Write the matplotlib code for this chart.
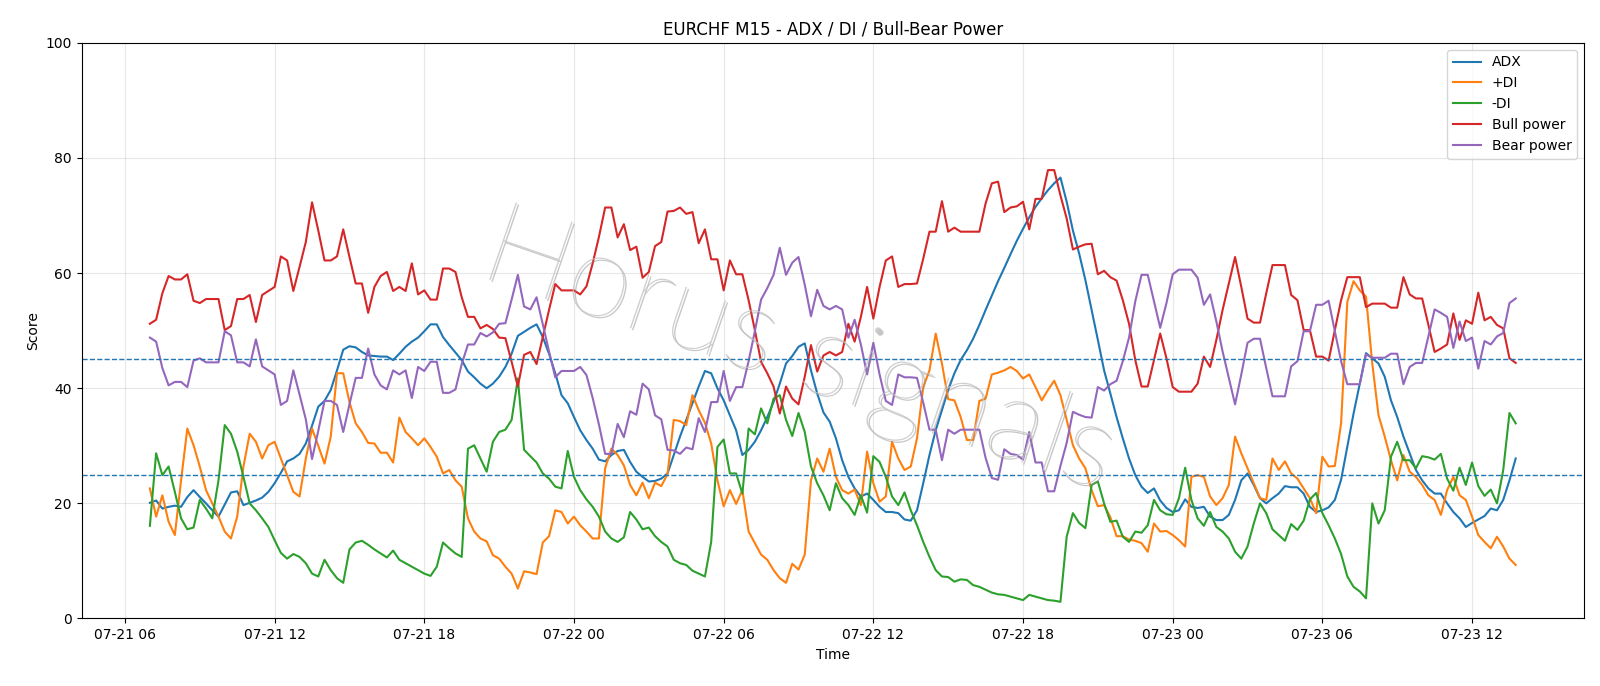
import matplotlib
matplotlib.use("Agg")
import matplotlib.pyplot as plt
import matplotlib.dates as mdates
import matplotlib.patheffects as pe
import pandas as pd

# 15-minute bars, 07-21 07:00 -> 07-23 13:45
times = pd.date_range("2025-07-21 07:00", periods=220, freq="15min")

adx = [
    20.1, 20.5, 19.1, 19.4, 19.6, 19.4, 21.1, 22.3, 21.1, 20.0, 18.8, 17.7, 19.8, 21.9, 22.1, 19.7, 20.1, 20.5, 21.0, 22.0,
    23.5, 25.3, 27.3, 27.8, 28.6, 30.4, 33.5, 36.8, 37.8, 39.7, 43.1, 46.7, 47.3, 47.1, 46.3, 45.7, 45.6, 45.5, 45.5, 44.9,
    46.0, 47.2, 48.1, 48.8, 49.9, 51.1, 51.1, 48.9, 47.5, 46.2, 44.9, 42.9, 41.9, 40.8, 40.0, 40.8, 42.0, 43.7, 46.0, 49.1,
    49.8, 50.5, 51.1, 48.9, 46.0, 42.6, 38.8, 37.4, 35.0, 32.7, 31.0, 29.5, 27.6, 27.3, 28.4, 29.1, 29.3, 27.2, 25.5, 24.6,
    23.8, 23.9, 24.3, 25.2, 28.4, 31.6, 34.5, 37.4, 40.3, 43.0, 42.6, 40.0, 37.9, 35.3, 32.7, 28.4, 29.3, 30.7, 32.7, 35.0,
    37.6, 40.8, 44.3, 45.6, 47.2, 47.8, 43.1, 39.1, 35.8, 34.2, 31.3, 27.5, 24.6, 22.6, 21.2, 21.7, 20.6, 19.4, 18.5, 18.5,
    18.3, 17.2, 17.0, 18.8, 23.5, 28.4, 32.7, 36.2, 39.7, 42.6, 44.9, 46.6, 48.6, 51.0, 53.6, 56.1, 58.6, 60.9, 63.3, 65.6,
    67.7, 69.7, 71.5, 73.0, 74.4, 75.6, 76.6, 72.4, 67.4, 63.4, 58.8, 53.6, 48.4, 43.1, 39.1, 35.0, 31.3, 27.8, 24.9, 22.9,
    21.8, 22.6, 20.5, 19.2, 18.5, 18.8, 20.7, 19.4, 19.2, 19.4, 17.7, 17.1, 17.1, 18.0, 20.6, 24.0, 25.2, 23.2, 20.9, 20.0,
    20.9, 21.7, 23.0, 22.8, 22.8, 21.7, 19.4, 18.5, 18.8, 19.3, 20.6, 24.1, 29.8, 35.6, 40.8, 46.1, 45.2, 44.3, 42.0, 37.9,
    35.0, 31.6, 28.7, 25.8, 24.0, 22.6, 21.7, 21.7, 20.0, 18.5, 17.4, 15.9, 16.6, 17.2, 17.8, 19.1, 18.8, 20.6, 24.0, 27.8,
]

plus_di = [
    22.6, 17.7, 21.4, 16.8, 14.5, 24.0, 33.0, 30.1, 26.4, 22.3, 20.0, 17.7, 15.1, 13.9, 17.7, 26.4, 32.1, 30.7, 27.8, 30.1,
    30.7, 27.8, 24.9, 22.0, 21.2, 27.8, 33.0, 30.0, 26.9, 31.6, 42.6, 42.6, 37.6, 33.9, 32.4, 30.5, 30.4, 28.8, 28.8, 27.1,
    34.9, 32.4, 31.3, 30.1, 31.3, 29.8, 28.1, 25.2, 25.8, 24.0, 22.9, 17.4, 15.1, 13.9, 13.4, 11.0, 10.4, 9.0, 7.8, 5.2,
    8.2, 8.0, 7.7, 13.2, 14.3, 18.8, 18.5, 16.5, 17.7, 16.2, 15.1, 13.9, 13.9, 26.1, 29.5, 28.4, 26.6, 23.2, 21.4, 23.6,
    20.9, 23.6, 23.0, 25.1, 34.5, 34.3, 33.6, 38.8, 36.2, 34.0, 30.4, 24.0, 19.5, 22.3, 19.9, 22.3, 15.1, 13.1, 11.1, 10.2,
    8.4, 7.0, 6.2, 9.5, 8.5, 11.1, 24.0, 27.8, 25.5, 29.5, 24.6, 22.3, 21.7, 22.4, 19.7, 29.0, 23.5, 20.3, 21.2, 30.7,
    27.8, 25.8, 26.4, 31.3, 40.2, 43.1, 49.5, 44.3, 38.1, 37.9, 35.0, 31.0, 31.0, 37.8, 38.2, 42.4, 42.7, 43.1, 43.7, 43.0,
    41.7, 42.4, 40.2, 37.9, 39.7, 41.3, 38.8, 34.5, 30.1, 27.8, 26.1, 22.3, 19.5, 19.7, 17.6, 14.3, 14.3, 13.7, 13.5, 13.1,
    11.6, 16.5, 15.1, 15.2, 14.5, 13.6, 12.5, 24.6, 24.9, 24.6, 21.2, 19.7, 20.9, 23.2, 31.6, 28.7, 26.1, 23.5, 20.9, 20.6,
    27.8, 25.8, 27.3, 25.2, 24.3, 22.6, 20.9, 18.3, 28.1, 26.4, 26.5, 33.9, 55.0, 58.6, 57.0, 55.9, 44.3, 35.3, 31.6, 27.5,
    24.0, 28.4, 25.5, 24.6, 23.2, 21.4, 20.6, 18.0, 22.3, 24.6, 21.4, 20.6, 17.7, 14.5, 13.3, 12.2, 14.2, 12.5, 10.4, 9.3,
]

minus_di = [
    16.1, 28.7, 24.9, 26.4, 22.0, 17.4, 15.5, 15.8, 20.6, 19.1, 17.4, 24.0, 33.6, 32.1, 29.0, 24.6, 20.0, 18.8, 17.4, 15.9,
    13.6, 11.4, 10.4, 11.2, 10.7, 9.6, 7.8, 7.3, 10.2, 8.4, 7.0, 6.2, 12.0, 13.2, 13.5, 12.8, 12.0, 11.3, 10.6, 11.8,
    10.2, 9.6, 9.0, 8.4, 7.8, 7.4, 9.0, 13.2, 12.2, 11.3, 10.7, 29.5, 30.1, 27.8, 25.5, 30.7, 32.4, 32.8, 34.5, 41.7,
    29.3, 28.2, 27.1, 25.2, 24.3, 22.9, 22.6, 29.1, 24.6, 22.3, 20.7, 19.4, 17.7, 15.1, 13.9, 13.3, 14.1, 18.5, 17.2, 15.5,
    15.8, 14.3, 13.3, 12.5, 10.2, 9.6, 9.3, 8.3, 7.8, 7.3, 13.3, 29.8, 31.1, 25.2, 25.2, 21.7, 33.0, 32.0, 36.5, 33.9,
    38.2, 38.8, 34.5, 31.7, 35.7, 32.4, 26.4, 23.5, 21.4, 18.8, 23.5, 20.9, 19.7, 18.0, 21.4, 18.4, 28.2, 27.2, 24.6, 21.2,
    19.7, 21.9, 18.8, 16.2, 13.3, 10.7, 8.4, 7.3, 7.2, 6.4, 6.8, 6.7, 5.8, 5.5, 5.0, 4.5, 4.2, 4.1, 3.8, 3.5,
    3.2, 4.1, 3.8, 3.5, 3.2, 3.1, 2.9, 14.2, 18.3, 16.6, 15.7, 23.2, 23.8, 20.0, 16.8, 17.0, 14.2, 13.3, 15.1, 14.9,
    16.2, 20.6, 18.8, 18.1, 18.0, 20.9, 26.2, 20.6, 17.4, 16.1, 18.5, 15.9, 15.1, 13.9, 11.6, 10.4, 12.5, 16.5, 20.0, 18.3,
    15.5, 14.5, 13.5, 16.4, 15.4, 17.0, 20.7, 21.8, 18.3, 16.2, 13.9, 11.2, 7.3, 5.5, 4.7, 3.5, 20.0, 16.5, 18.8, 28.1,
    30.7, 27.5, 27.5, 26.1, 28.2, 28.0, 27.6, 28.6, 24.3, 22.2, 26.2, 23.2, 27.1, 23.0, 21.3, 22.4, 20.0, 25.8, 35.7, 33.9,
]

bull_power = [
    51.2, 51.9, 56.5, 59.5, 58.9, 58.9, 59.8, 55.2, 54.8, 55.5, 55.5, 55.5, 50.1, 50.8, 55.5, 55.5, 56.2, 51.5, 56.2, 56.9,
    57.6, 62.9, 62.2, 56.9, 61.1, 65.4, 72.3, 67.4, 62.2, 62.2, 62.9, 67.6, 62.8, 58.2, 58.2, 53.1, 57.6, 59.5, 60.2, 56.9,
    57.6, 56.9, 61.7, 56.3, 57.0, 55.4, 55.4, 60.8, 60.8, 60.2, 55.8, 52.4, 52.4, 50.4, 51.0, 50.3, 48.8, 48.7, 44.6, 40.3,
    45.8, 46.3, 44.2, 48.9, 53.6, 58.1, 57.0, 57.0, 57.0, 56.3, 57.7, 61.7, 66.3, 71.4, 71.4, 66.2, 68.5, 64.0, 64.6, 59.2,
    60.2, 64.7, 65.4, 70.7, 70.8, 71.4, 70.3, 70.6, 65.2, 67.6, 62.4, 62.4, 57.0, 62.2, 59.8, 59.8, 55.3, 50.1, 44.6, 42.6,
    40.3, 35.6, 40.3, 38.2, 37.2, 42.0, 47.5, 42.9, 45.7, 46.3, 45.7, 46.3, 51.2, 48.1, 52.4, 57.6, 52.1, 57.6, 62.2, 62.9,
    57.6, 58.1, 58.1, 58.2, 62.5, 67.2, 67.2, 72.5, 67.2, 67.9, 67.2, 67.2, 67.2, 67.2, 72.1, 75.6, 75.9, 70.6, 71.4, 71.6,
    72.4, 67.6, 72.9, 72.9, 77.9, 77.9, 73.5, 69.5, 64.1, 64.6, 65.0, 65.1, 59.8, 60.4, 59.3, 58.7, 55.3, 51.2, 44.9, 40.3,
    40.3, 44.9, 49.5, 45.2, 40.2, 39.4, 39.4, 39.4, 40.8, 45.5, 43.7, 48.4, 53.6, 58.2, 62.8, 57.6, 52.1, 51.4, 51.4, 56.5,
    61.4, 61.4, 61.4, 56.2, 55.3, 50.1, 50.1, 45.5, 45.5, 44.8, 50.1, 55.3, 59.3, 59.3, 59.3, 54.1, 54.7, 54.7, 54.7, 54.0,
    54.0, 59.3, 56.3, 55.6, 55.6, 51.0, 46.3, 46.9, 47.6, 53.0, 48.4, 51.8, 51.2, 56.6, 51.8, 52.4, 51.0, 50.4, 45.2, 44.4,
]

bear_power = [
    48.8, 48.1, 43.5, 40.5, 41.1, 41.1, 40.2, 44.8, 45.2, 44.5, 44.5, 44.5, 49.9, 49.2, 44.5, 44.5, 43.8, 48.5, 43.8, 43.1,
    42.4, 37.1, 37.8, 43.1, 38.9, 34.6, 27.7, 32.6, 37.8, 37.8, 37.1, 32.4, 37.2, 41.8, 41.8, 46.9, 42.4, 40.5, 39.8, 43.1,
    42.4, 43.1, 38.3, 43.7, 43.0, 44.6, 44.6, 39.2, 39.2, 39.8, 44.2, 47.6, 47.6, 49.6, 49.0, 49.7, 51.2, 51.3, 55.4, 59.7,
    54.2, 53.7, 55.8, 51.1, 46.4, 41.9, 43.0, 43.0, 43.0, 43.7, 42.3, 38.3, 33.7, 28.6, 28.6, 33.8, 31.5, 36.0, 35.4, 40.8,
    39.8, 35.3, 34.6, 29.3, 29.2, 28.6, 29.7, 29.4, 34.8, 32.4, 37.6, 37.6, 43.0, 37.8, 40.2, 40.2, 44.7, 49.9, 55.4, 57.4,
    59.7, 64.4, 59.7, 61.8, 62.8, 58.0, 52.5, 57.1, 54.3, 53.7, 54.3, 53.7, 48.8, 51.9, 47.6, 42.4, 47.9, 42.4, 37.8, 37.1,
    42.4, 41.9, 41.9, 41.8, 37.5, 32.8, 32.8, 27.5, 32.8, 32.1, 32.8, 32.8, 32.8, 32.8, 27.9, 24.4, 24.1, 29.4, 28.6, 28.4,
    27.6, 32.4, 27.1, 27.1, 22.1, 22.1, 26.5, 30.5, 35.9, 35.4, 35.0, 34.9, 40.2, 39.6, 40.7, 41.3, 44.7, 48.8, 55.1, 59.7,
    59.7, 55.1, 50.5, 54.8, 59.8, 60.6, 60.6, 60.6, 59.2, 54.5, 56.3, 51.6, 46.4, 41.8, 37.2, 42.4, 47.9, 48.6, 48.6, 43.5,
    38.6, 38.6, 38.6, 43.8, 44.7, 49.9, 49.9, 54.5, 54.5, 55.2, 49.9, 44.7, 40.7, 40.7, 40.7, 45.9, 45.3, 45.3, 45.3, 46.0,
    46.0, 40.7, 43.7, 44.4, 44.4, 49.0, 53.7, 53.1, 52.4, 47.0, 51.6, 48.2, 48.8, 43.4, 48.2, 47.6, 49.0, 49.6, 54.8, 55.6,
]

levels = [45, 25]

fig = plt.figure(figsize=(16, 6.86), dpi=100)
ax = fig.add_subplot(111)
fig.subplots_adjust(left=0.051, right=0.99, top=0.9375, bottom=0.0984)

ax.plot(times, adx, label="ADX")
ax.plot(times, plus_di, label="+DI")
ax.plot(times, minus_di, label="-DI")
ax.plot(times, bull_power, label="Bull power", color="tab:red")
ax.plot(times, bear_power, label="Bear power", color="tab:purple")

for lv in levels:
    ax.axhline(lv, linestyle="--", linewidth=1, color="tab:blue")

ax.set_ylim(0, 100)
ax.xaxis.set_major_locator(mdates.HourLocator(byhour=[0, 6, 12, 18]))
ax.xaxis.set_major_formatter(mdates.DateFormatter("%m-%d %H"))
ax.set_title("EURCHF M15 - ADX / DI / Bull-Bear Power")
ax.set_xlabel("Time")
ax.set_ylabel("Score")
ax.grid(True, alpha=0.3)
ax.legend(loc="upper right")

# watermark: thin grey letters with a soft shadow
fig.text(0.499, 0.485, "Horus signals", fontsize=84, rotation=-19,
         family="Lato", fontweight="light",
         ha="center", va="center", color="#c4c4c4", alpha=0.8,
         path_effects=[pe.withSimplePatchShadow(offset=(1.5, -1.5),
                                                shadow_rgbFace="#909090", alpha=0.5)])

fig.savefig("out.png", dpi=100)
